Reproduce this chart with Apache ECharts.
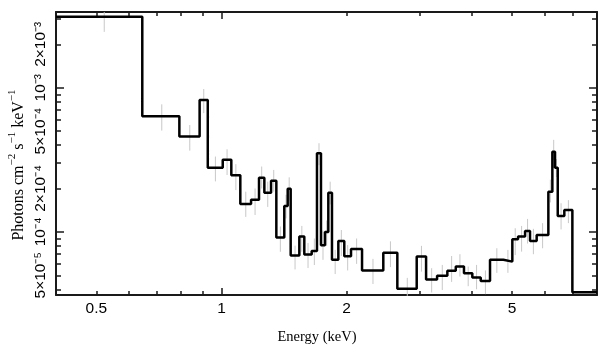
<!DOCTYPE html>
<html><head><meta charset="utf-8">
<script src="https://cdn.jsdelivr.net/npm/echarts@6/dist/echarts.min.js"></script>
<style>html,body{margin:0;padding:0;background:#fff}#c{width:609px;height:357px}</style>
</head><body><div id="c"></div>
<script>
// Bin edges (keV) of the step spectrum
const binEdges = [0.4, 0.645, 0.792, 0.886, 0.927, 1.007, 1.056, 1.110, 1.178, 1.231, 1.268, 1.316, 1.355, 1.416, 1.443, 1.467, 1.539, 1.582, 1.648, 1.697, 1.735, 1.774, 1.807, 1.844, 1.910, 1.974, 2.049, 2.178, 2.450, 2.648, 2.948, 3.105, 3.30, 3.493, 3.660, 3.830, 4.011, 4.202, 4.424, 4.764, 5.006, 5.167, 5.372, 5.521, 5.728, 6.111, 6.248, 6.341, 6.437, 6.676, 6.980, 8.0];
// Flux per bin (photons cm^-2 s^-1 keV^-1)
const fluxValues = [3.10e-3, 6.34e-4, 4.58e-4, 8.22e-4, 2.78e-4, 3.17e-4, 2.47e-4, 1.56e-4, 1.67e-4, 2.37e-4, 1.87e-4, 2.26e-4, 9.13e-5, 1.51e-4, 1.99e-4, 6.85e-5, 9.28e-5, 6.96e-5, 7.38e-5, 3.51e-4, 8.09e-5, 1.0e-4, 1.87e-4, 6.4e-5, 8.63e-5, 6.78e-5, 7.62e-5, 5.39e-5, 7.18e-5, 4.03e-5, 6.74e-5, 4.67e-5, 4.96e-5, 5.37e-5, 5.75e-5, 5.17e-5, 4.82e-5, 4.57e-5, 6.4e-5, 6.22e-5, 8.9e-5, 9.28e-5, 1.016e-4, 8.63e-5, 9.53e-5, 1.90e-4, 3.60e-4, 2.79e-4, 1.29e-4, 1.42e-4, 3.82e-5];
// Error bar limits per bin
const errLow = [2.44e-3, 5.04e-4, 3.66e-4, 6.66e-4, 2.24e-4, 2.48e-4, 1.95e-4, 1.27e-4, 1.31e-4, 2.0e-4, 1.49e-4, 1.90e-4, 7.28e-5, 1.24e-4, 1.65e-4, 5.49e-5, 7.28e-5, 5.62e-5, 5.89e-5, 2.9e-4, 6.4e-5, 8.0e-5, 1.55e-4, 5.1e-5, 6.8e-5, 5.4e-5, 6.0e-5, 4.35e-5, 5.7e-5, 3.6e-5, 5.3e-5, 3.8e-5, 3.95e-5, 4.5e-5, 4.9e-5, 4.2e-5, 4.0e-5, 3.7e-5, 5.2e-5, 5.2e-5, 6.9e-5, 7.3e-5, 8.3e-5, 7.0e-5, 7.7e-5, 1.6e-4, 3.15e-4, 2.4e-4, 1.04e-4, 1.15e-4, 3.82e-5];
const errHigh = [3.35e-3, 7.67e-4, 5.51e-4, 9.79e-4, 3.33e-4, 3.74e-4, 2.95e-4, 1.90e-4, 2.0e-4, 2.84e-4, 2.23e-4, 2.69e-4, 1.09e-4, 1.81e-4, 2.39e-4, 8.03e-5, 1.10e-4, 8.37e-5, 9.0e-5, 4.12e-4, 1.02e-4, 1.2e-4, 2.23e-4, 7.5e-5, 1.03e-4, 8.1e-5, 9.0e-5, 6.5e-5, 8.6e-5, 4.8e-5, 8.0e-5, 5.6e-5, 5.9e-5, 6.8e-5, 7.0e-5, 5.75e-5, 5.9e-5, 5.4e-5, 7.7e-5, 7.5e-5, 1.06e-4, 1.1e-4, 1.23e-4, 1.05e-4, 1.15e-4, 2.3e-4, 4.35e-4, 3.2e-4, 1.58e-4, 1.66e-4, 3.82e-5];

const xLabelValues = [0.5, 1, 2, 5];
const xMajorTicks = [1];
const xMinorTicks = [0.5, 0.6, 0.7, 0.8, 0.9, 2, 3, 4, 5, 6, 7];
const yLabelValues = [5e-5, 1e-4, 2e-4, 5e-4, 1e-3, 2e-3];
const yLabelTexts = ['5×10⁻⁵', '10⁻⁴', '2×10⁻⁴', '5×10⁻⁴', '10⁻³', '2×10⁻³'];
const yMajorTicks = [1e-4, 1e-3];
const yMinorTicks = [4e-5, 5e-5, 6e-5, 7e-5, 8e-5, 9e-5, 2e-4, 3e-4, 4e-4, 5e-4, 6e-4, 7e-4, 8e-4, 9e-4, 2e-3, 3e-3];
const xRange = [0.4, 8];
const yRange = [3.65e-5, 3.35e-3];

const stepData = binEdges.map((e, i) => [e, fluxValues[Math.min(i, fluxValues.length - 1)]]);
const errData = fluxValues.map((v, i) => [(binEdges[i] + binEdges[i + 1]) / 2, errLow[i], errHigh[i]]);

const AX = '#1a1a1a';
function xAx(pos, ticks, len, showLine, showLabel) {
  return {
    type: 'log', logBase: 10, min: xRange[0], max: xRange[1], position: pos,
    axisLine: { show: showLine, onZero: false, lineStyle: { color: AX, width: 2 } },
    axisTick: { show: true, inside: true, length: len, customValues: ticks, lineStyle: { color: AX, width: 1.5 } },
    axisLabel: showLabel ? {
      show: true, customValues: xLabelValues, margin: 6, color: '#000',
      fontFamily: 'Liberation Sans', fontSize: 15.5,
      formatter: v => String(+(+v).toPrecision(3))
    } : { show: false },
    splitLine: { show: false }
  };
}
function yAx(pos, ticks, len, showLine, showLabel) {
  return {
    type: 'log', logBase: 10, min: yRange[0], max: yRange[1], position: pos,
    axisLine: { show: showLine, onZero: false, lineStyle: { color: AX, width: 2 } },
    axisTick: { show: true, inside: true, length: len, customValues: ticks, lineStyle: { color: AX, width: 1.5 } },
    axisLabel: showLabel ? {
      show: true, customValues: yLabelValues, margin: 7, color: '#000', rotate: 90,
      fontFamily: 'Liberation Sans', fontSize: 15.5,
      formatter: v => {
        for (let i = 0; i < yLabelValues.length; i++) {
          if (Math.abs(v / yLabelValues[i] - 1) < 1e-3) return yLabelTexts[i];
        }
        return '';
      }
    } : { show: false },
    splitLine: { show: false }
  };
}

const chart = echarts.init(document.getElementById('c'), null, { renderer: 'canvas' });
chart.setOption({
  animation: false,
  backgroundColor: '#fff',
  grid: { left: 56, right: 12, top: 12, bottom: 62, containLabel: false },
  xAxis: [
    xAx('bottom', xMajorTicks, 7, true, true),
    xAx('bottom', xMinorTicks, 4, false, false),
    xAx('top', xMajorTicks, 7, true, false),
    xAx('top', xMinorTicks, 4, false, false)
  ],
  yAxis: [
    yAx('left', yMajorTicks, 8, true, true),
    yAx('left', yMinorTicks, 5, false, false),
    yAx('right', yMajorTicks, 8, true, false),
    yAx('right', yMinorTicks, 5, false, false)
  ],
  series: [
    {
      type: 'custom', xAxisIndex: 0, yAxisIndex: 0, z: 1,
      data: errData,
      encode: { x: 0, y: [1, 2] },
      renderItem: function (params, api) {
        const p1 = api.coord([api.value(0), api.value(1)]);
        const p2 = api.coord([api.value(0), api.value(2)]);
        return { type: 'line', shape: { x1: p1[0], y1: p1[1], x2: p2[0], y2: p2[1] },
                 style: { stroke: '#c8c8c8', lineWidth: 1 } };
      }
    },
    {
      type: 'line', xAxisIndex: 0, yAxisIndex: 0, z: 3,
      data: stepData, step: 'end', symbol: 'none',
      lineStyle: { color: '#000', width: 2.5 }
    }
  ],
  graphic: [
    { type: 'text', x: 317, y: 337, style: { text: 'Energy (keV)', textAlign: 'center', textVerticalAlign: 'middle', font: '14.5px "Liberation Serif"', fill: '#000' } },
    { type: 'text', x: 17, y: 165, rotation: Math.PI / 2, style: {
        text: '{a|Photons cm}{s|−2}{a| s}{s|−1}{a| keV}{s|−1}',
        textAlign: 'center', textVerticalAlign: 'middle', fill: '#000',
        rich: {
          a: { fontSize: 16, fontFamily: 'Liberation Serif', lineHeight: 20, verticalAlign: 'bottom', fill: '#000' },
          s: { fontSize: 11, fontFamily: 'Liberation Serif', lineHeight: 20, verticalAlign: 'top', fill: '#000' }
        }
    } }
  ]
});
</script>
</body></html>
